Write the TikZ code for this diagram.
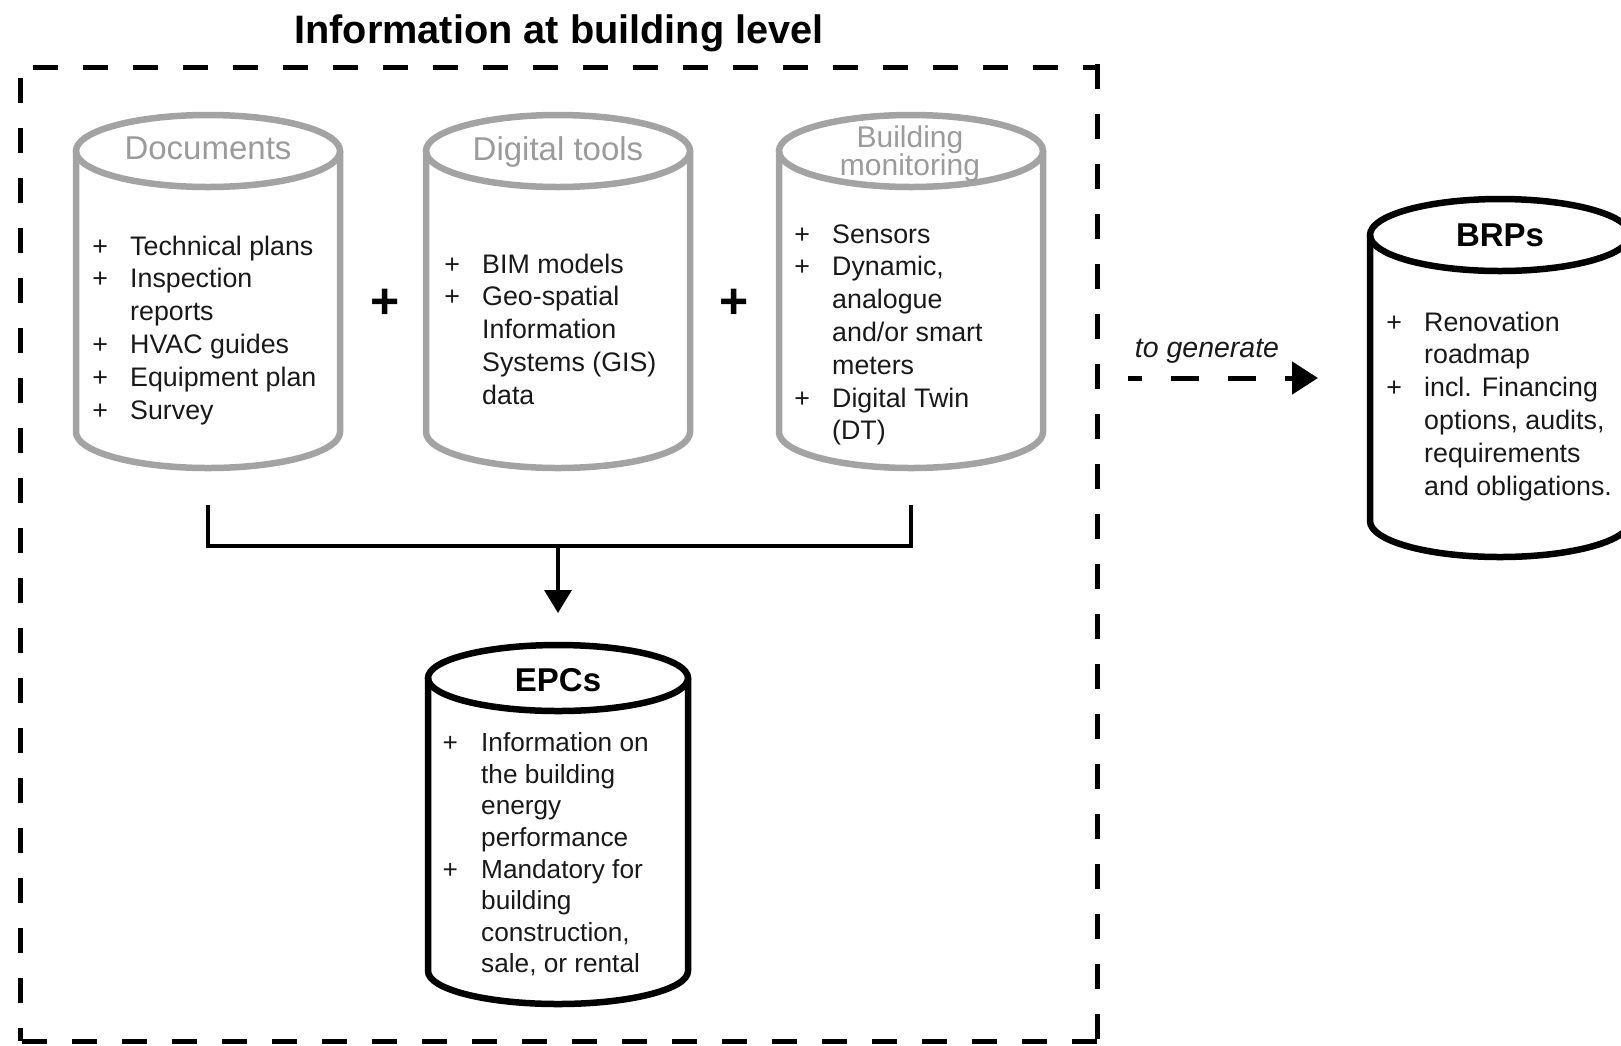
\documentclass[tikz,border=0pt]{standalone}
\usepackage{fontspec}
\setmainfont{Liberation Sans}
\usetikzlibrary{arrows.meta}

\definecolor{cylgray}{RGB}{163,163,163}
\definecolor{headgray}{RGB}{155,155,155}
\definecolor{ink}{RGB}{25,25,25}

% list lines: a "+" bullet in a fixed-width box, continuation lines indented alike
\newcommand\bitem[1]{\makebox[37.8pt][l]{+}#1}
\newcommand\bcont[1]{\hspace*{37.8pt}#1}

% drum: #1 centre x, #2 top-ellipse y, #3 bottom-ellipse y, #4 x radius, #5 y radius, #6 style
\newcommand\drum[6]{%
  \draw[#6] (#1-#4,#2) -- (#1-#4,#3)
    arc[start angle=180,end angle=0,x radius=#4,y radius=#5] -- (#1+#4,#2);
  \draw[#6] (#1,#2) ellipse[x radius=#4,y radius=#5];
}

\begin{document}
\begin{tikzpicture}[x=1pt,y=-1pt,
  graydrum/.style={draw=cylgray,line width=6.5pt},
  blackdrum/.style={draw=black,line width=6.5pt},
  frame/.style={line width=5pt,dash pattern=on 25pt off 25pt},
  link/.style={line width=3.3pt},
  listtxt/.style={anchor=base west,inner sep=0pt,text=ink,
    font=\fontsize{26.8}{32.8}\selectfont},
  headtxt/.style={anchor=base,inner sep=0pt,text=headgray,
    font=\fontsize{33}{38}\selectfont},
  boldhead/.style={anchor=base,inner sep=0pt,text=black,
    font=\fontsize{33}{38}\selectfont\bfseries},
  plusop/.style={inner sep=0pt,text=black,
    font=\fontsize{50}{50}\selectfont\bfseries}]

\useasboundingbox (0,0) rectangle (1621,1045);
\clip (0,0) rectangle (1621,1045);

% title
\node[anchor=base,inner sep=0pt,font=\fontsize{39.7}{44}\selectfont\bfseries]
  (title) at (559,43) {Information at building level};

% dashed frame, one side at a time so the corners fall as drawn
\draw[frame,dash phase=37pt] (20,67) -- (1097,67);
\draw[frame,dash phase=39pt] (20,67) -- (20,1041);
\draw[frame] (1097,64) -- (1097,1041);
\draw[frame,dash phase=48pt] (20,1041) -- (1097,1041);

% source drums
\drum{208}{151}{432}{132}{36}{graydrum}
\drum{558}{151}{432}{132}{36}{graydrum}
\drum{911}{151}{432}{132}{36}{graydrum}

\node[headtxt] (docs) at (208,159) {Documents};
\node[headtxt] (tools) at (558,160) {Digital tools};
\node[headtxt,font=\fontsize{30}{30}\selectfont] (mon1) at (910,147) {Building};
\node[headtxt,font=\fontsize{30}{30}\selectfont] (mon2) at (910,175) {monitoring};

\node[listtxt] (docs-list) at (92.2,255) {\begin{tabular}[t]{@{}l@{}}
  \bitem{Technical plans}\\
  \bitem{Inspection}\\
  \bcont{reports}\\
  \bitem{HVAC guides}\\
  \bitem{Equipment plan}\\
  \bitem{Survey}
\end{tabular}};

\node[listtxt] (tools-list) at (444.2,273) {\begin{tabular}[t]{@{}l@{}}
  \bitem{BIM models}\\
  \bitem{Geo-spatial}\\
  \bcont{Information}\\
  \bcont{Systems (GIS)}\\
  \bcont{data}
\end{tabular}};

\node[listtxt] (mon-list) at (794.2,243) {\begin{tabular}[t]{@{}l@{}}
  \bitem{Sensors}\\
  \bitem{Dynamic,}\\
  \bcont{analogue}\\
  \bcont{and/or smart}\\
  \bcont{meters}\\
  \bitem{Digital Twin}\\
  \bcont{(DT)}
\end{tabular}};

% plus operators between the drums
\node[plusop] (plus1) at (385,304) {+};
\node[plusop] (plus2) at (734,304) {+};

% EPC drum
\drum{558}{678}{971}{130}{33}{blackdrum}
\node[boldhead] (epc) at (558,691) {EPCs};
\node[listtxt,font=\fontsize{26.2}{31.6}\selectfont] (epc-list) at (442.3,751.7) {\begin{tabular}[t]{@{}l@{}}
  \makebox[38.7pt][l]{+}Information on\\
  \hspace*{38.7pt}the building\\
  \hspace*{38.7pt}energy\\
  \hspace*{38.7pt}performance\\
  \makebox[38.7pt][l]{+}Mandatory for\\
  \hspace*{38.7pt}building\\
  \hspace*{38.7pt}construction,\\
  \hspace*{38.7pt}sale, or rental
\end{tabular}};

% BRP drum
\drum{1500}{235}{521}{130}{36}{blackdrum}
\node[boldhead] (brp) at (1500,246) {BRPs};
\node[listtxt] (brp-list) at (1386.2,331) {\begin{tabular}[t]{@{}l@{}}
  \bitem{Renovation}\\
  \bcont{roadmap}\\
  \bitem{incl. Financing}\\
  \bcont{options, audits,}\\
  \bcont{requirements}\\
  \bcont{and obligations.}
\end{tabular}};

% merge of the sources into the EPCs
\coordinate (docs-out) at (208,505);
\coordinate (mon-out) at (911,505);
\coordinate (hub) at (558,546);
\coordinate (epc-in) at (558,613);
\draw[link] (docs-out) |- (hub) -| (mon-out);
\draw[link,-{Triangle[length=23pt,width=27pt]}] (hub) -- (epc-in);

% "to generate" arrow towards the BRPs
\node[anchor=base,inner sep=0pt,text=ink,font=\fontsize{28.5}{32}\selectfont\itshape]
  (gen) at (1207,357) {to generate};
\coordinate (gen-from) at (1128,378);
\coordinate (gen-to) at (1318,378);
\draw[line width=5pt,dash pattern=on 28pt off 29pt,dash phase=14pt,
  -{Triangle[length=26pt,width=32pt]}] (gen-from) -- (gen-to);

\end{tikzpicture}
\end{document}
